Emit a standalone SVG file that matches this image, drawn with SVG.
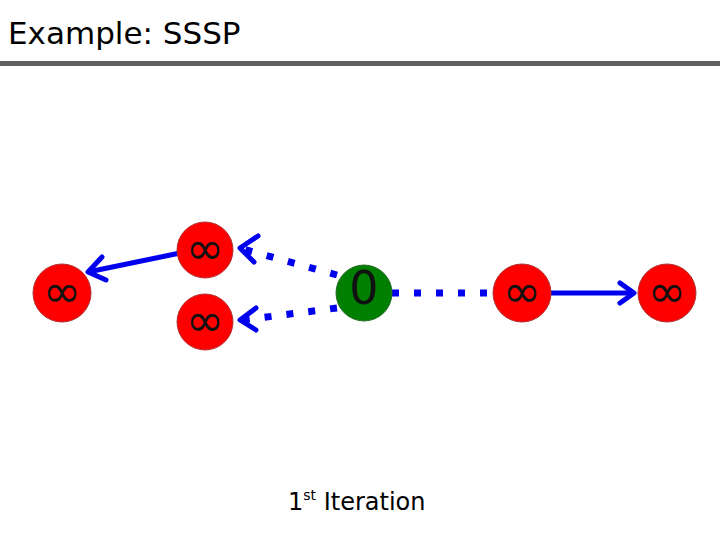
<svg xmlns="http://www.w3.org/2000/svg" width="720" height="540" viewBox="0 0 720 540">
<style>
.n{fill:#ff0000;stroke:#b03030;stroke-width:1}
.g{fill:#008000;stroke:#2a6a2a;stroke-width:1}
.t{font-family:"DejaVu Sans",sans-serif;font-size:46px;text-anchor:middle;fill:#111}
.e{stroke:#0000ee;stroke-width:5;fill:none}
.d{stroke-width:7;stroke-dasharray:7 15}
.h{stroke:#0000ee;stroke-width:5;fill:none;stroke-linecap:round;stroke-linejoin:round}
</style>
<rect width="720" height="540" fill="#fff"/>
<text x="8" y="44" font-family="DejaVu Sans, sans-serif" font-size="31" fill="#000">Example: SSSP</text>
<rect x="0" y="61" width="720" height="5" fill="#606060"/>
<g id="edges">
<path class="e" d="M180 253 L88 272"/>
<path class="h" d="M102 257 L88 272 L106 280"/>
<path class="e d" d="M337 275 L243 249"/>
<path class="h" d="M258 236 L240 248 L254 262"/>
<path class="e d" d="M337 308 L243 320"/>
<path class="h" d="M256 308 L240 320 L256 330"/>
<path class="e d" d="M392 293 L490 293"/>
<path class="e" d="M551 293 L632 293"/>
<path class="h" d="M620 283 L634 293 L620 303"/>
</g>
<g id="n1"><circle class="n" cx="62" cy="293" r="29"/><text class="t" x="62" y="307">∞</text></g>
<g id="n2"><circle class="n" cx="205" cy="250" r="28"/><text class="t" x="205" y="264">∞</text></g>
<g id="n3"><circle class="n" cx="205" cy="322" r="28"/><text class="t" x="205" y="336">∞</text></g>
<g id="n0"><circle class="g" cx="364" cy="293" r="28"/><text class="t" x="364" y="304" font-size="28">0</text></g>
<g id="n4"><circle class="n" cx="522" cy="293" r="29"/><text class="t" x="522" y="307">∞</text></g>
<g id="n5"><circle class="n" cx="667" cy="293" r="29"/><text class="t" x="667" y="307">∞</text></g>
<text x="288" y="510" font-family="DejaVu Sans, sans-serif" font-size="24" fill="#000">1<tspan font-size="14" dy="-10">st</tspan><tspan dy="10"> Iteration</tspan></text>
</svg>
